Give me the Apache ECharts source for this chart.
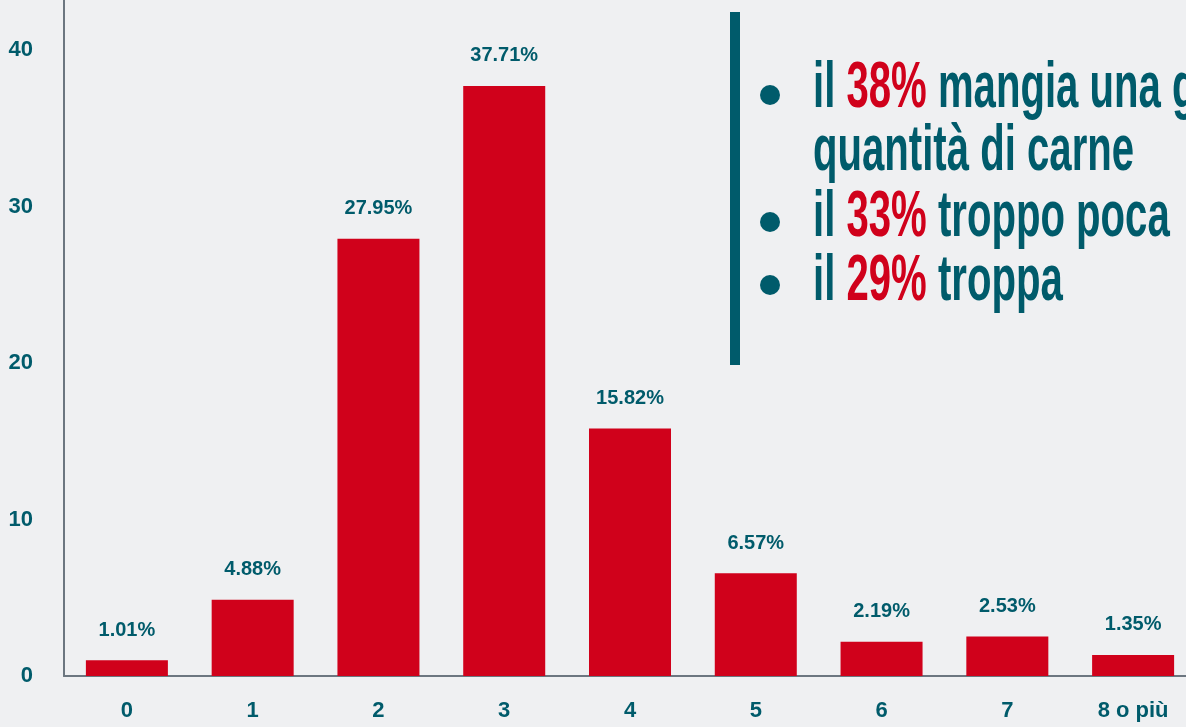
<!DOCTYPE html>
<html>
<head>
<meta charset="utf-8">
<script src="https://cdn.jsdelivr.net/npm/echarts@6/dist/echarts.min.js"></script>
<style>
html,body{margin:0;padding:0;background:#eff0f2;}
#chart{width:1186px;height:727px;}
</style>
</head>
<body>
<div id="chart"></div>
<script>
const categories = ['0', '1', '2', '3', '4', '5', '6', '7', '8 o più'];
const values = [1.01, 4.88, 27.95, 37.71, 15.82, 6.57, 2.19, 2.53, 1.35];
const yTicks = [0, 10, 20, 30, 40];
const notes = [
  ['il ', '38%', ' mangia una giusta'],
  ['', '', 'quantità di carne'],
  ['il ', '33%', ' troppo poca'],
  ['il ', '29%', ' troppa']
];

const TEAL = '#005b6b';
const RED = '#d0011b';
const FONT = '"Liberation Sans", Arial, sans-serif';

const chart = echarts.init(document.getElementById('chart'));

const noteY = [89, 152, 218, 282];
const bulletY = [95, null, 222, 285];
const graphics = [
  { type: 'rect', shape: { x: 730, y: 12, width: 10, height: 353 }, style: { fill: TEAL } }
];
bulletY.forEach(y => {
  if (y !== null) graphics.push({ type: 'circle', shape: { cx: 770, cy: y, r: 10 }, style: { fill: TEAL } });
});
notes.forEach((n, i) => {
  const txt = (n[0] ? '{t|' + n[0] + '}' : '') + (n[1] ? '{r|' + n[1] + '}' : '') + '{t|' + n[2] + '}';
  graphics.push({
    type: 'text', x: 813, y: noteY[i], scaleX: 0.836, scaleY: 1.34,
    style: {
      text: txt, x: 0, y: 0, verticalAlign: 'middle', align: 'left',
      fontFamily: FONT, fontWeight: 'bold', fontSize: 48, fill: TEAL,
      rich: {
        t: { fontFamily: FONT, fontWeight: 'bold', fontSize: 48, fill: TEAL, color: TEAL },
        r: { fontFamily: FONT, fontWeight: 'bold', fontSize: 48, fill: RED, color: RED }
      }
    }
  });
});

chart.setOption({
  backgroundColor: '#eff0f2',
  animation: false,
  grid: { left: 64, top: 0, bottom: 51, width: 1132, outerBoundsMode: 'none', containLabel: false },
  xAxis: {
    type: 'category',
    data: categories,
    axisLine: { lineStyle: { color: '#6c7680', width: 2 } },
    axisTick: { show: false },
    axisLabel: { color: TEAL, fontFamily: FONT, fontWeight: 'bold', fontSize: 22, margin: 24 }
  },
  yAxis: {
    type: 'value',
    min: 0, max: 43.2, interval: 10,
    axisLine: { show: true, lineStyle: { color: '#6c7680', width: 2 } },
    axisTick: { show: false },
    splitLine: { show: false },
    axisLabel: {
      color: TEAL, fontFamily: FONT, fontWeight: 'bold', fontSize: 22, margin: 31,
      showMaxLabel: false,
      formatter: v => (yTicks.indexOf(v) >= 0 ? String(v) : '')
    }
  },
  series: [{
    type: 'bar',
    data: values,
    barWidth: 82,
    itemStyle: { color: RED },
    label: {
      show: true, position: 'top', distance: 20,
      color: TEAL, fontFamily: FONT, fontWeight: 'bold', fontSize: 20,
      formatter: p => p.value.toFixed(2) + '%'
    }
  }],
  graphic: graphics
});
</script>
</body>
</html>
